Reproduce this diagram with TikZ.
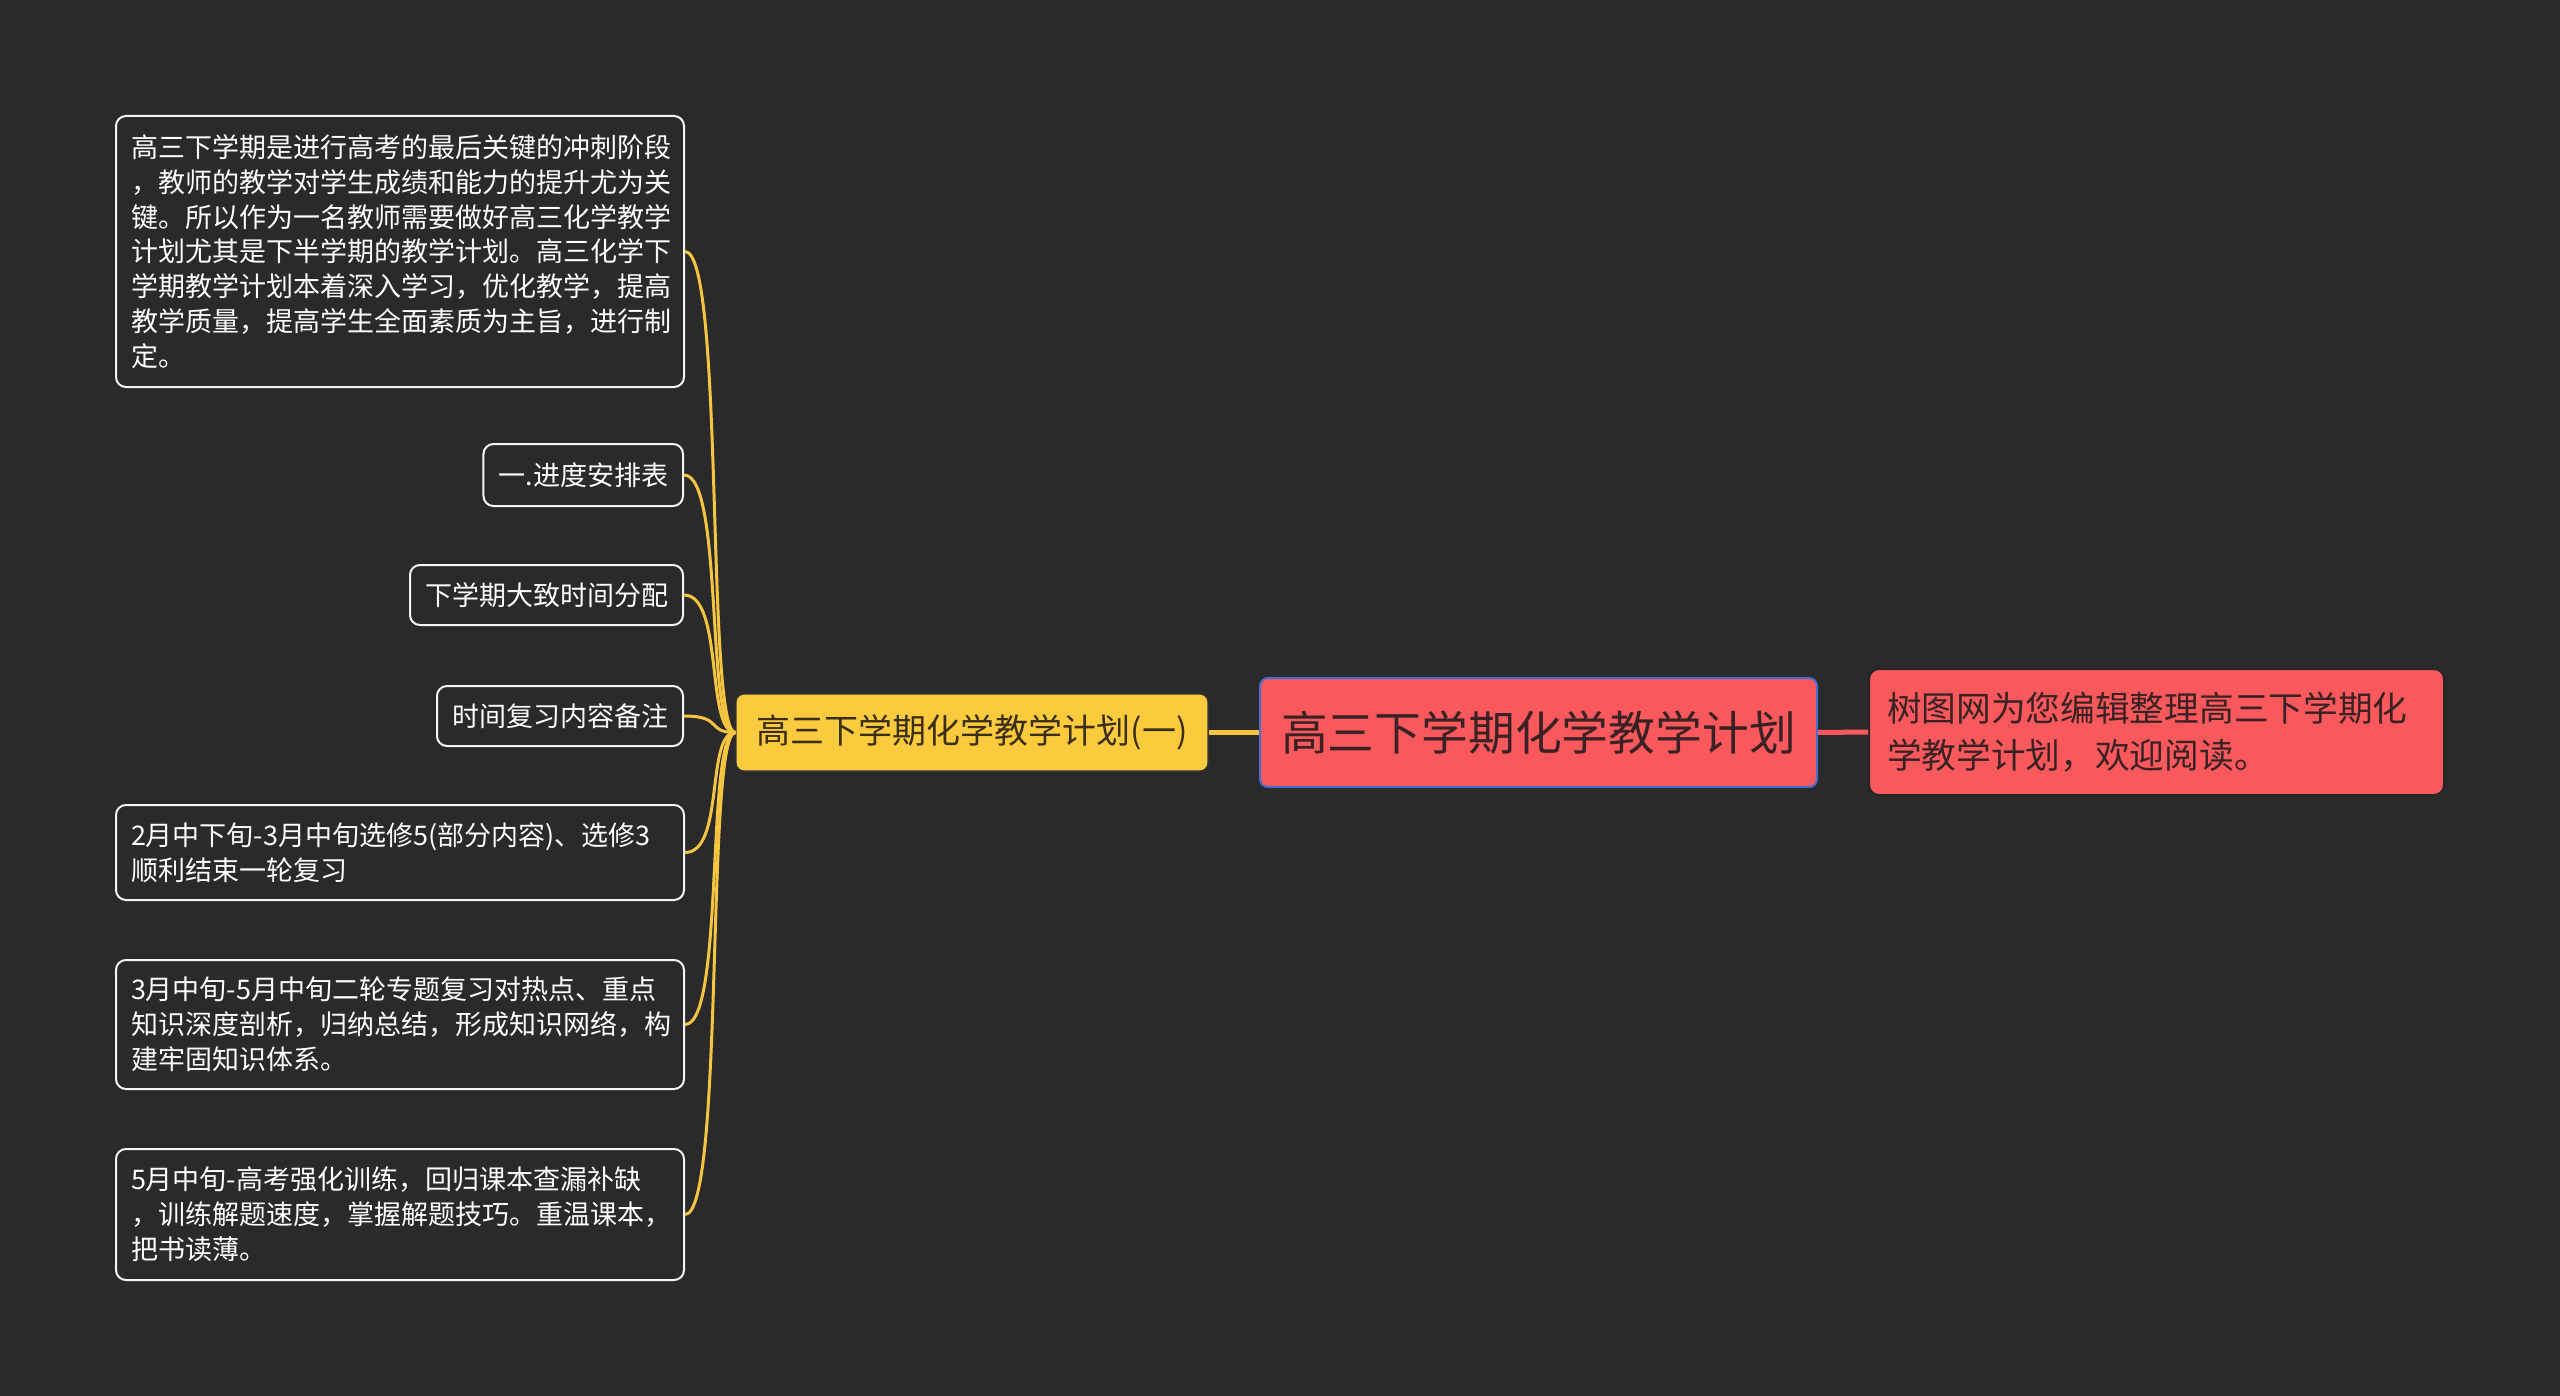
\documentclass[tikz,border=0pt]{standalone}
\usepackage{fontspec}
\setmainfont{Noto Sans CJK SC}
\definecolor{bg}{HTML}{2A2A2A}
\definecolor{yel}{HTML}{FCCB3D}
\definecolor{yline}{HTML}{F5C542}
\definecolor{redf}{HTML}{F9585C}
\definecolor{blueb}{HTML}{4A6BD0}
\definecolor{darktxt}{HTML}{3A2224}
\definecolor{yeltxt}{HTML}{3A2F16}
\tikzset{
  leaf/.style={draw=white!92!gray, line width=1pt, rounded corners=5pt, text=white,
    font=\fontsize{13.5}{17.4}\selectfont, inner xsep=7.5pt, inner ysep=0pt},
  leafwide/.style={leaf, text width=269pt, align=left},
  ylink/.style={draw=yline, line width=1.5pt},
}
\begin{document}
\begin{tikzpicture}[x=0.5pt,y=-0.5pt]
\fill[bg] (0,0) rectangle (2560,1396);
\useasboundingbox (0,0) rectangle (2560,1396);

\node[leafwide, minimum height=135.5pt] (b1) at (400,251.5) {高三下学期是进行高考的最后关键的冲刺阶段\\，教师的教学对学生成绩和能力的提升尤为关\\键。所以作为一名教师需要做好高三化学教学\\计划尤其是下半学期的教学计划。高三化学下\\学期教学计划本着深入学习，优化教学，提高\\教学质量，提高学生全面素质为主旨，进行制\\定。};
\node[leaf, minimum height=31pt, anchor=east] (b2) at (684,475) {一.进度安排表};
\node[leaf, minimum height=30pt, anchor=east] (b3) at (684,595) {下学期大致时间分配};
\node[leaf, minimum height=30pt, anchor=east] (b4) at (684,716) {时间复习内容备注};
\node[leafwide, minimum height=47.5pt] (b5) at (400,852.5) {2月中下旬-3月中旬选修5(部分内容)、选修3\\顺利结束一轮复习};
\node[leafwide, minimum height=64.5pt] (b6) at (400,1024.5) {3月中旬-5月中旬二轮专题复习对热点、重点\\知识深度剖析，归纳总结，形成知识网络，构\\建牢固知识体系。};
\node[leafwide, minimum height=65.5pt] (b7) at (400,1214.5) {5月中旬-高考强化训练，回归课本查漏补缺\\，训练解题速度，掌握解题技巧。重温课本，\\把书读薄。};

\node[fill=yel, draw=black!80, line width=0.6pt, rounded corners=4pt, text=yeltxt,
  font=\fontsize{17}{20}\selectfont, minimum width=236pt, minimum height=38.5pt, inner sep=0pt] (yn) at (972,732.5) {高三下学期化学教学计划(一)};

\node[fill=redf, draw=blueb, line width=1pt, rounded corners=4pt, text=darktxt,
  font=\fontsize{23.4}{28}\selectfont, minimum width=278.5pt, minimum height=54.5pt, inner sep=0pt] (main) at (1538.5,732.5) {高三下学期化学教学计划};

\node[fill=redf, draw=black!85, line width=1pt, rounded corners=5pt, text=darktxt,
  font=\fontsize{17.35}{23.5}\selectfont, text width=269.5pt, align=left, inner xsep=9pt, inner ysep=0pt,
  minimum height=63pt, anchor=west] (rn) at (1868,732) {树图网为您编辑整理高三下学期化\\学教学计划，欢迎阅读。};

\foreach \n in {b1,b2,b3,b4,b5,b6,b7}
  \draw[ylink] (\n.east) .. controls +(40,0) and +(-30,0) .. (yn.west);
\draw[draw=yline, line width=2.5pt] (yn.east) -- (main.west);
\draw[draw=redf, line width=2.5pt] (main.east) -- (rn.west);
\end{tikzpicture}
\end{document}
